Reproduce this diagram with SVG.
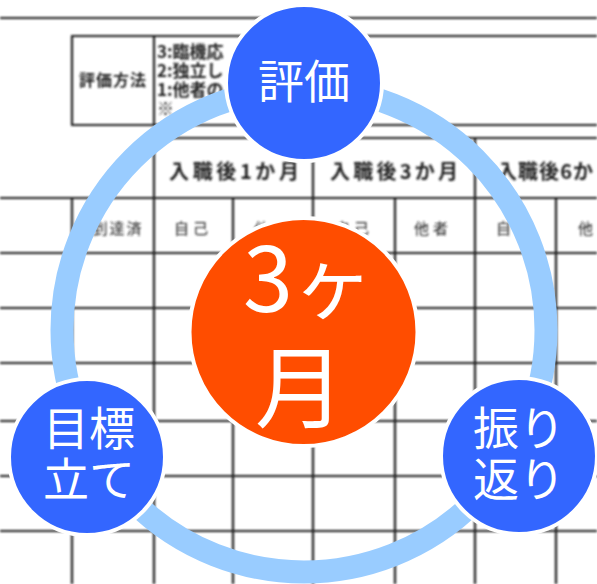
<svg xmlns="http://www.w3.org/2000/svg" width="597" height="584" viewBox="0 0 597 584">
<defs>
<filter id="soft" x="-5%" y="-5%" width="110%" height="110%"><feGaussianBlur stdDeviation="0.8"/></filter>
<style>
.ln{stroke:#1a1a1a;stroke-width:2.2;fill:none}
.tt{font-family:"Noto Sans CJK JP","Noto Sans",sans-serif;fill:#222}
.hd{font-size:20px;font-weight:bold}
.sm{font-size:15px}
.node{fill:#3366FF;stroke:#FFFFFF;stroke-width:4}
.lbl{font-family:"Noto Sans CJK JP","Noto Sans",sans-serif;font-size:46px;fill:#FFFFFF;text-anchor:middle}
.big{font-family:"Noto Sans CJK JP","Noto Sans",sans-serif;font-size:90px;fill:#FFFFFF;text-anchor:middle}
</style>
</defs>
<rect width="597" height="584" fill="#FFFFFF"/>
<g id="table" filter="url(#soft)">
<line class="ln" x1="0" y1="18" x2="597" y2="18"/>
<line class="ln" x1="71" y1="36" x2="597" y2="36"/>
<line class="ln" x1="71" y1="125" x2="597" y2="125"/>
<line class="ln" x1="72" y1="36" x2="72" y2="125"/>
<line class="ln" x1="154" y1="36" x2="154" y2="125"/>
<line class="ln" x1="154" y1="138" x2="597" y2="138"/>
<line class="ln" x1="0" y1="198" x2="597" y2="198"/>
<line class="ln" x1="0" y1="253" x2="597" y2="253"/>
<line class="ln" x1="0" y1="308" x2="597" y2="308"/>
<line class="ln" x1="0" y1="363" x2="597" y2="363"/>
<line class="ln" x1="0" y1="421" x2="597" y2="421"/>
<line class="ln" x1="0" y1="476" x2="597" y2="476"/>
<line class="ln" x1="0" y1="531" x2="597" y2="531"/>
<line class="ln" x1="72" y1="198" x2="72" y2="584"/>
<line class="ln" x1="154" y1="138" x2="154" y2="584"/>
<line class="ln" x1="233" y1="198" x2="233" y2="584"/>
<line class="ln" x1="313" y1="138" x2="313" y2="584"/>
<line class="ln" x1="395" y1="198" x2="395" y2="584"/>
<line class="ln" x1="475" y1="138" x2="475" y2="584"/>
<line class="ln" x1="556" y1="198" x2="556" y2="584"/>
<text class="tt" x="113" y="86" font-size="16" font-weight="bold" text-anchor="middle" letter-spacing="1">評価方法</text>
<text class="tt" x="157" y="58" font-size="17" font-weight="bold">3:臨機応</text>
<text class="tt" x="157" y="77" font-size="17" font-weight="bold">2:独立し</text>
<text class="tt" x="157" y="96" font-size="17" font-weight="bold">1:他者の</text>
<text class="tt" x="157" y="115" font-size="17" font-weight="bold">※</text>
<text class="tt hd" x="234" y="179" text-anchor="middle" textLength="130" lengthAdjust="spacing">入職後1か月</text>
<text class="tt hd" x="394" y="179" text-anchor="middle" textLength="128" lengthAdjust="spacing">入職後3か月</text>
<text class="tt hd" x="497" y="179" textLength="96" lengthAdjust="spacing">入職後6か</text>
<text class="tt sm" x="118" y="234" text-anchor="middle" letter-spacing="2">到達済</text>
<text class="tt sm" x="193" y="234" text-anchor="middle" letter-spacing="4">自己</text>
<text class="tt sm" x="273" y="234" text-anchor="middle" letter-spacing="4">他者</text>
<text class="tt sm" x="354" y="234" text-anchor="middle" letter-spacing="4">自己</text>
<text class="tt sm" x="433" y="234" text-anchor="middle" letter-spacing="4">他者</text>
<text class="tt sm" x="515" y="234" text-anchor="middle" letter-spacing="4">自己</text>
<text class="tt sm" x="578" y="234">他</text>
</g>
<g id="connectors">
<circle cx="304" cy="330" r="242" fill="none" stroke="#99CCFF" stroke-width="23"/>
</g>
<g id="node-center">
<circle cx="303.5" cy="332" r="114" fill="#FF4D00" stroke="#FFFFFF" stroke-width="4"/>
<text class="big" x="308" y="312">3<tspan font-size="80">ヶ</tspan></text>
<text class="big" x="300" y="421">月</text>
</g>
<g id="node-hyouka">
<circle class="node" cx="304" cy="83" r="78"/>
<text class="lbl" x="304" y="98">評価</text>
</g>
<g id="node-mokuhyou">
<circle class="node" cx="87" cy="457" r="78"/>
<text class="lbl" x="89" y="445">目標</text>
<text class="lbl" x="89" y="496">立て</text>
</g>
<g id="node-furikaeri">
<circle class="node" cx="519" cy="456" r="78"/>
<text class="lbl" x="519" y="445">振り</text>
<text class="lbl" x="519" y="496">返り</text>
</g>
</svg>
